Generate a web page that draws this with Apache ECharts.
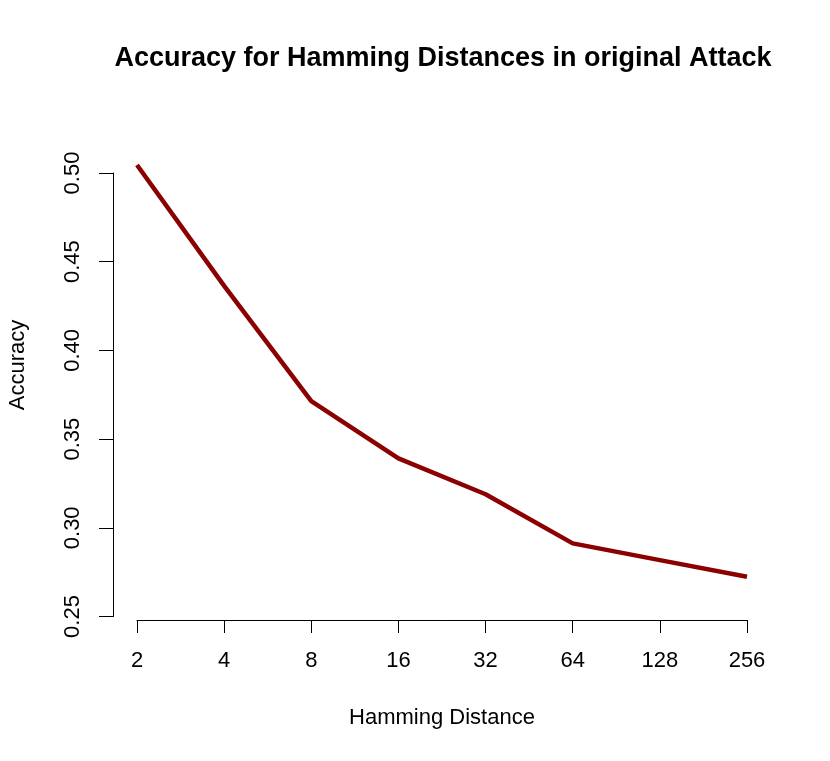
<!DOCTYPE html>
<html>
<head>
<meta charset="utf-8">
<script src="https://cdn.jsdelivr.net/npm/echarts@6/dist/echarts.min.js"></script>
<style>
  html, body { margin: 0; padding: 0; background: #fff; }
  #chart { width: 830px; height: 761px; }
</style>
</head>
<body>
<div id="chart"></div>
<script>
var hamming = ['2', '4', '8', '16', '32', '64', '128', '256'];
var accuracy = [0.5045, 0.4364, 0.3714, 0.3391, 0.3189, 0.2912, 0.2818, 0.2724];
var yTicks = { min: 0.25, max: 0.50, step: 0.05 };

var FONT = "'Liberation Sans', Arial, Helvetica, sans-serif";
var chart = echarts.init(document.getElementById('chart'));

chart.setOption({
    backgroundColor: '#ffffff',
    animation: false,
    grid: { left: 137, right: 83, top: 173, bottom: 144.5 },
    xAxis: {
        type: 'category',
        data: hamming,
        boundaryGap: false,
        offset: 3.5,
        axisLine: { lineStyle: { color: '#000', width: 1 } },
        axisTick: { length: 13, inside: false, alignWithLabel: true, lineStyle: { color: '#000' } },
        axisLabel: { color: '#000', fontSize: 22, fontFamily: FONT, margin: 30 },
        splitLine: { show: false },
        name: 'Hamming Distance',
        nameLocation: 'middle',
        nameGap: 87,
        nameTextStyle: { color: '#000', fontSize: 22, fontFamily: FONT }
    },
    yAxis: {
        type: 'value',
        min: yTicks.min,
        max: yTicks.max,
        interval: yTicks.step,
        offset: 24,
        axisLine: { show: true, lineStyle: { color: '#000', width: 1 } },
        axisTick: { show: true, length: 14, lineStyle: { color: '#000' } },
        axisLabel: {
            color: '#000', fontSize: 22, fontFamily: FONT, rotate: 90, margin: 29,
            formatter: function (v) { return v.toFixed(2); }
        },
        splitLine: { show: false }
    },
    graphic: [
        {
            type: 'text', x: 443, y: 59,
            style: {
                text: 'Accuracy for Hamming Distances in original Attack',
                fontSize: 27, fontWeight: 'bold', fontFamily: FONT, fill: '#000',
                textAlign: 'center', textVerticalAlign: 'middle'
            }
        },
        {
            type: 'text', x: 18, y: 365, rotation: Math.PI / 2,
            style: {
                text: 'Accuracy',
                fontSize: 22, fontFamily: FONT, fill: '#000',
                textAlign: 'center', textVerticalAlign: 'middle'
            }
        }
    ],
    series: [{
        type: 'line',
        data: accuracy,
        symbol: 'none',
        clip: false,
        lineStyle: { color: '#8B0000', width: 4.5 }
    }]
});
</script>
</body>
</html>
